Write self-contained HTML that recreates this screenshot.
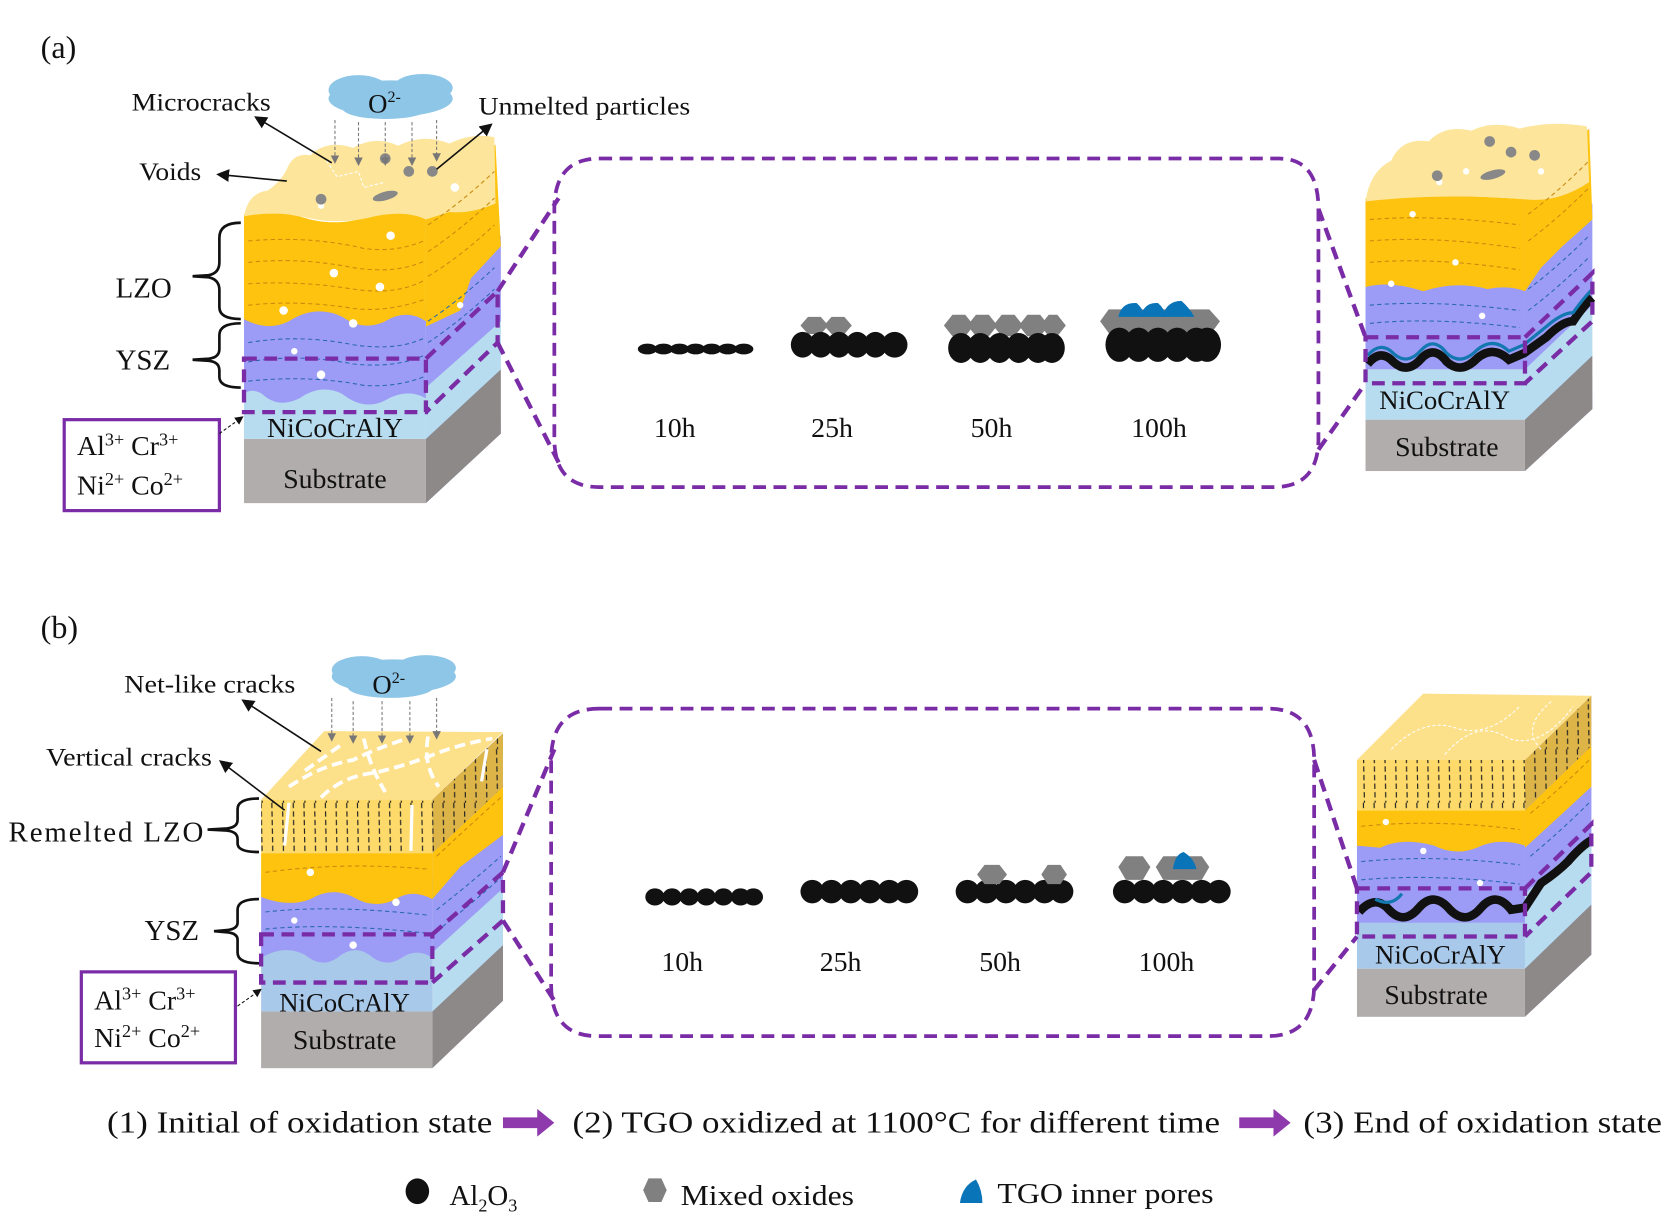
<!DOCTYPE html>
<html><head><meta charset="utf-8"><style>
html,body{margin:0;padding:0;background:#fff;}
svg{display:block;}
text{font-family:"Liberation Serif",serif;fill:#111;}
</style></head><body>
<svg width="1678" height="1231" viewBox="0 0 1568 1150" xmlns="http://www.w3.org/2000/svg">
<defs>
<pattern id="col" width="10" height="50" patternUnits="userSpaceOnUse">
<line x1="4" y1="0" x2="5" y2="50" stroke="#222" stroke-width="1.1" stroke-dasharray="5,3"/>
</pattern>
<marker id="ah" markerWidth="8" markerHeight="8" refX="6" refY="4" orient="auto"><path d="M0,0 L8,4 L0,8 Z" fill="#111"/></marker>
<marker id="ag" markerWidth="8" markerHeight="8" refX="5" refY="4" orient="auto"><path d="M0,0 L8,4 L0,8 Z" fill="#777"/></marker>
</defs>

<text x="38" y="54" font-size="30">(a)</text>

<g>
<polygon points="398,200 463,135 468,405 398,470" fill="#a4a4f7"/>
<polygon points="398,410 468,345 468,405 398,470" fill="#8d8988"/>
<polygon points="398,355 468,290 468,345 398,410" fill="#b7dcef"/>
<polygon points="398,290 468,220 468,300 398,362" fill="#9c9cf6"/>
<polygon points="398,200 463,135 468,230 440,260 430,290 398,305" fill="#fdc30e"/>
<rect x="228" y="410" width="170" height="60" fill="#b1adac"/>
<rect x="228" y="340" width="170" height="70" fill="#b7dcef"/>
<path d="M228,285 L398,285 L398,372 Q380,362 360,374 Q340,384 320,368 Q300,358 280,372 Q260,382 245,368 Q235,362 228,368 Z" fill="#9c9cf6"/>
<path d="M228,200 Q260,195 290,205 Q320,212 350,200 Q380,195 398,204 L398,300 Q380,288 360,300 Q340,310 320,296 Q295,284 270,300 Q250,310 228,298 Z" fill="#fdc30e"/>
<path d="M228,202 Q232,180 250,178 Q262,170 268,158 Q274,142 290,145 Q305,130 330,138 Q350,126 372,136 Q395,124 420,134 Q440,124 462,128 L463,190 Q440,200 420,198 L398,205 Q380,196 350,202 Q320,210 290,204 Q260,196 228,202 Z" fill="#fde59b"/>
<g fill="none" stroke="#c98a10" stroke-width="1" stroke-dasharray="4,3">
<path d="M232,225 Q290,220 340,232 Q370,236 396,225"/>
<path d="M232,245 Q280,240 330,250 Q370,256 396,244"/>
<path d="M232,265 Q280,262 330,270 Q370,276 396,262"/>
<path d="M232,285 Q280,280 330,288 Q360,292 396,280"/>
<path d="M400,210 Q430,190 462,160"/><path d="M400,235 Q430,215 462,185"/><path d="M400,258 Q430,240 462,210"/>
</g>
<g fill="none" stroke="#2a68b0" stroke-width="1" stroke-dasharray="4,3">
<path d="M232,320 Q280,312 330,322 Q370,328 396,316"/>
<path d="M232,338 Q280,330 330,340 Q370,344 396,332"/>
<path d="M232,356 Q290,350 340,360 Q370,362 396,352"/>
<path d="M400,320 Q430,300 462,270"/><path d="M400,300 Q430,280 462,250"/>
</g>
<g fill="#fff"><circle cx="300" cy="192" r="3"/><circle cx="425" cy="175" r="4"/><circle cx="365" cy="220" r="4"/><circle cx="312" cy="255" r="4"/><circle cx="355" cy="268" r="4"/><circle cx="265" cy="290" r="4"/><circle cx="330" cy="302" r="4"/><circle cx="300" cy="350" r="4"/><circle cx="275" cy="328" r="3"/><circle cx="430" cy="285" r="3"/></g>
<g fill="#888"><circle cx="300" cy="186" r="5"/><circle cx="360" cy="148" r="5"/><circle cx="382" cy="160" r="5"/><circle cx="404" cy="160" r="5"/><ellipse cx="360" cy="183" rx="12" ry="4" transform="rotate(-15 360 183)"/></g>
<path d="M305,150 L315,165 L335,160 L340,175 L360,170" fill="none" stroke="#fff" stroke-width="1" stroke-dasharray="3,2"/>
<g fill="none" stroke="#7a2ca6" stroke-width="4" stroke-dasharray="12,7">
<rect x="228" y="335" width="170" height="50"/>
<polyline points="398,335 465,272 465,320 398,385"/>
<line x1="465" y1="272" x2="522" y2="185"/>
<line x1="465" y1="320" x2="522" y2="432"/>
</g>
<text x="313" y="408" font-size="26" text-anchor="middle">NiCoCrAlY</text>
<text x="313" y="456" font-size="26" text-anchor="middle">Substrate</text>
</g>
<g fill="#8ec6e8"><ellipse cx="365" cy="92" rx="58" ry="17"/><ellipse cx="335" cy="84" rx="28" ry="14"/><ellipse cx="395" cy="82" rx="28" ry="13"/><ellipse cx="360" cy="101" rx="40" ry="10"/></g>
<text x="344" y="105" font-size="25">O<tspan font-size="15" dy="-10">2-</tspan></text>
<g stroke="#777" stroke-width="1" stroke-dasharray="3,2" marker-end="url(#ag)"><line x1="313" y1="112" x2="313" y2="150"/><line x1="335" y1="114" x2="335" y2="152"/><line x1="360" y1="114" x2="360" y2="152"/><line x1="385" y1="114" x2="385" y2="152"/><line x1="408" y1="112" x2="408" y2="148"/></g>
<text x="123" y="103" font-size="24" textLength="130" lengthAdjust="spacingAndGlyphs">Microcracks</text>
<line x1="310" y1="152" x2="240" y2="110" stroke="#111" stroke-width="1.5" marker-end="url(#ah)"/>
<text x="130" y="168" font-size="24" textLength="58" lengthAdjust="spacingAndGlyphs">Voids</text>
<line x1="268" y1="169" x2="205" y2="163" stroke="#111" stroke-width="1.5" marker-end="url(#ah)"/>
<text x="447" y="107" font-size="24" textLength="198" lengthAdjust="spacingAndGlyphs">Unmelted particles</text>
<line x1="408" y1="158" x2="458" y2="117" stroke="#111" stroke-width="1.5" marker-end="url(#ah)"/>
<text x="108" y="278" font-size="27">LZO</text>
<path d="M225,208 Q205,208 205,222 L205,245 Q205,255 195,257 L180,258 L195,259 Q205,261 205,271 L205,287 Q205,298 225,298" fill="none" stroke="#111" stroke-width="2.5"/>
<text x="108" y="345" font-size="27">YSZ</text>
<path d="M225,302 Q205,302 205,313 L205,326 Q205,334 195,335 L180,336 L195,337 Q205,338 205,346 L205,352 Q205,362 225,362" fill="none" stroke="#111" stroke-width="2.5"/>
<rect x="60" y="392" width="145" height="85" fill="#fff" stroke="#7a2ca6" stroke-width="3"/>
<text x="72" y="425" font-size="26">Al<tspan font-size="17" dy="-9">3+</tspan><tspan dy="9">  Cr</tspan><tspan font-size="17" dy="-9">3+</tspan></text>
<text x="72" y="462" font-size="26">Ni<tspan font-size="17" dy="-9">2+</tspan><tspan dy="9"> Co</tspan><tspan font-size="17" dy="-9">2+</tspan></text>
<line x1="205" y1="405" x2="226" y2="390" stroke="#111" stroke-width="1" stroke-dasharray="3,2" marker-end="url(#ah)"/>

<path d="M560,148 L1195,148 Q1232,148 1232,195 L1232,410 Q1232,455 1190,455 L560,455 Q518,455 518,410 L518,195 Q518,148 560,148 Z" fill="none" stroke="#7a2ca6" stroke-width="3.5" stroke-dasharray="12,7"/>
<g fill="#111"><ellipse cx="605" cy="326" rx="9" ry="5"/><ellipse cx="620" cy="326" rx="9" ry="5"/><ellipse cx="635" cy="326" rx="9" ry="5"/><ellipse cx="650" cy="326" rx="9" ry="5"/><ellipse cx="665" cy="326" rx="9" ry="5"/><ellipse cx="680" cy="326" rx="9" ry="5"/><ellipse cx="695" cy="326" rx="9" ry="5"/></g>
<g fill="#808080"><polygon points="748,304 755,296 767,296 774,304 767,312 755,312"/><polygon points="770,304 777,296 789,296 796,304 789,312 777,312"/></g>
<g fill="#111"><ellipse cx="750" cy="322" rx="11" ry="12"/><ellipse cx="767" cy="322" rx="11" ry="12"/><ellipse cx="784" cy="322" rx="11" ry="12"/><ellipse cx="801" cy="322" rx="11" ry="12"/><ellipse cx="818" cy="322" rx="11" ry="12"/><ellipse cx="836" cy="322" rx="12" ry="12"/></g>
<g fill="#808080"><polygon points="882,304 890,294 902,294 910,304 902,314 890,314"/><polygon points="904,304 912,294 924,294 932,304 924,314 912,314"/><polygon points="928,304 936,294 948,294 956,304 948,314 936,314"/><polygon points="952,304 960,294 972,294 980,304 972,314 960,314"/><polygon points="972,304 980,294 988,294 996,304 988,314 980,314"/></g>
<g fill="#111"><ellipse cx="898" cy="325" rx="12" ry="14"/><ellipse cx="916" cy="325" rx="12" ry="14"/><ellipse cx="934" cy="325" rx="12" ry="14"/><ellipse cx="952" cy="325" rx="12" ry="14"/><ellipse cx="970" cy="325" rx="12" ry="14"/><ellipse cx="983" cy="325" rx="12" ry="14"/></g>
<g fill="#808080"><polygon points="1028,300 1036,289 1130,289 1140,300 1132,311 1036,311"/></g>
<g fill="#0a74b8"><path d="M1045,296 Q1048,282 1062,283 Q1068,288 1070,296 Z"/><path d="M1066,296 Q1069,282 1082,283 Q1088,288 1090,296 Z"/><path d="M1086,296 Q1090,281 1104,281 Q1112,288 1116,296 Z"/></g>
<g fill="#111"><ellipse cx="1046" cy="322" rx="13" ry="16"/><ellipse cx="1064" cy="322" rx="13" ry="16"/><ellipse cx="1082" cy="322" rx="13" ry="16"/><ellipse cx="1100" cy="322" rx="13" ry="16"/><ellipse cx="1118" cy="322" rx="13" ry="16"/><ellipse cx="1128" cy="322" rx="13" ry="16"/></g>
<g font-size="26"><text x="611" y="408">10h</text><text x="758" y="408">25h</text><text x="907" y="408">50h</text><text x="1057" y="408">100h</text></g>

<g>
<polygon points="1425,185 1485,120 1488,382 1425,440" fill="#a4a4f7"/>
<polygon points="1425,392 1488,332 1488,382 1425,440" fill="#8d8988"/>
<polygon points="1425,340 1488,280 1488,332 1425,392" fill="#b7dcef"/>
<polygon points="1425,250 1488,190 1488,285 1425,345" fill="#9c9cf6"/>
<polygon points="1425,185 1485,120 1488,205 1460,230 1440,250 1425,272" fill="#fdc30e"/>
<rect x="1276" y="392" width="149" height="48" fill="#b1adac"/>
<rect x="1276" y="345" width="149" height="47" fill="#b7dcef"/>
<path d="M1276,255 L1425,255 L1425,345 L1276,345 Z" fill="#9c9cf6"/>
<path d="M1276,185 Q1340,180 1425,186 L1425,272 Q1410,266 1390,270 Q1360,262 1330,272 Q1300,262 1276,268 Z" fill="#fdc30e"/>
<path d="M1276,188 Q1280,160 1300,150 Q1310,128 1335,132 Q1350,116 1375,122 Q1395,112 1420,120 Q1450,112 1483,118 L1485,170 Q1455,190 1425,186 Q1350,180 1276,188 Z" fill="#fde59b"/>
<path d="M1278,340 Q1290,325 1302,338 Q1315,350 1328,335 Q1340,322 1352,338 Q1365,350 1380,335 Q1395,322 1410,336 L1424,330 L1445,315 Q1460,300 1470,300 Q1480,285 1488,278" fill="none" stroke="#111" stroke-width="8"/>
<path d="M1278,332 Q1290,318 1302,330 Q1315,342 1328,327 Q1340,314 1352,330 Q1365,342 1380,327 Q1395,314 1410,328 L1424,322 L1445,305 Q1460,292 1470,292 Q1480,278 1488,270" fill="none" stroke="#1478b0" stroke-width="3"/>
<g fill="none" stroke="#c98a10" stroke-width="1" stroke-dasharray="4,3"><path d="M1280,205 Q1340,200 1420,210"/><path d="M1280,225 Q1340,220 1420,232"/><path d="M1280,245 Q1340,240 1420,252"/><path d="M1428,200 Q1455,180 1485,150"/><path d="M1428,225 Q1455,205 1485,175"/></g>
<g fill="none" stroke="#2a68b0" stroke-width="1" stroke-dasharray="4,3"><path d="M1280,285 Q1340,280 1420,290"/><path d="M1280,302 Q1340,296 1420,306"/><path d="M1428,290 Q1455,270 1485,240"/><path d="M1428,270 Q1455,250 1485,220"/></g>
<g fill="#fff"><circle cx="1345" cy="170" r="3"/><circle cx="1370" cy="160" r="3"/><circle cx="1320" cy="200" r="3"/><circle cx="1360" cy="245" r="3"/><circle cx="1300" cy="265" r="3"/><circle cx="1385" cy="295" r="3"/><circle cx="1440" cy="160" r="3"/></g>
<g fill="#888"><circle cx="1392" cy="132" r="5"/><circle cx="1412" cy="142" r="5"/><circle cx="1434" cy="145" r="5"/><circle cx="1343" cy="164" r="5"/><ellipse cx="1395" cy="163" rx="12" ry="4" transform="rotate(-15 1395 163)"/></g>
<g fill="none" stroke="#7a2ca6" stroke-width="4" stroke-dasharray="12,7"><rect x="1276" y="315" width="149" height="43"/><polyline points="1425,315 1488,255 1488,300 1425,358"/><line x1="1232" y1="195" x2="1276" y2="315"/><line x1="1232" y1="420" x2="1276" y2="358"/></g>
<text x="1350" y="382" font-size="25" text-anchor="middle">NiCoCrAlY</text>
<text x="1352" y="426" font-size="26" text-anchor="middle">Substrate</text>
</g>

<text x="38" y="596" font-size="30">(b)</text>
<g>
<polygon points="404,747 470,685 470,935 404,998" fill="#a4a4f7"/>
<polygon points="404,945 470,883 470,935 404,998" fill="#8d8988"/>
<polygon points="404,880 470,818 470,883 404,945" fill="#b7dcef"/>
<polygon points="404,815 470,752 470,830 404,890" fill="#9c9cf6"/>
<polygon points="404,797 470,735 470,780 430,810 404,840" fill="#fdc30e"/>
<polygon points="404,747 470,685 470,735 404,797" fill="#ddb448"/>
<polygon points="404,747 470,685 470,735 404,797" fill="url(#col)"/>
<rect x="244" y="945" width="160" height="53" fill="#b1adac"/>
<rect x="244" y="875" width="160" height="70" fill="#a9c9ea"/>
<path d="M244,820 L404,820 L404,895 Q390,885 375,895 Q360,905 345,892 Q330,882 315,895 Q300,905 285,892 Q265,882 244,895 Z" fill="#9c9cf6"/>
<path d="M244,797 L404,797 L404,840 Q385,830 370,840 Q350,850 330,838 Q310,828 290,840 Q270,848 244,838 Z" fill="#fdc30e"/>
<rect x="244" y="747" width="160" height="50" fill="#fdda6a"/>
<rect x="244" y="747" width="160" height="50" fill="url(#col)"/>
<polygon points="244,747 404,747 470,684 303,683" fill="#fde08a"/>
<g fill="none" stroke="#fff" stroke-width="3.5" stroke-dasharray="10,5"><path d="M270,735 Q300,715 330,710 Q350,700 380,690"/><path d="M300,745 Q320,725 350,722 Q380,715 405,705 Q430,695 460,690"/><path d="M340,690 Q345,715 360,740"/><path d="M400,688 Q395,715 410,735"/><path d="M285,720 L320,695"/></g>
<line x1="270" y1="750" x2="266" y2="790" stroke="#fff" stroke-width="3"/><line x1="385" y1="752" x2="384" y2="795" stroke="#fff" stroke-width="3"/><line x1="455" y1="700" x2="450" y2="730" stroke="#fff" stroke-width="3"/>
<g fill="none" stroke="#2a68b0" stroke-width="1" stroke-dasharray="4,3"><path d="M248,852 Q310,845 400,855"/><path d="M248,868 Q310,862 400,872"/><path d="M408,850 Q440,825 468,800"/><path d="M408,870 Q440,845 468,820"/></g>
<g fill="none" stroke="#c98a10" stroke-width="1" stroke-dasharray="4,3"><path d="M248,815 Q320,805 400,812"/><path d="M408,800 Q440,770 468,745"/></g>
<g fill="#fff"><circle cx="290" cy="815" r="3.5"/><circle cx="370" cy="843" r="3.5"/><circle cx="330" cy="883" r="3.5"/><circle cx="275" cy="860" r="3"/></g>
<g fill="none" stroke="#7a2ca6" stroke-width="4" stroke-dasharray="12,7"><rect x="244" y="873" width="160" height="45"/><polyline points="404,873 470,815 470,860 404,918"/><line x1="470" y1="815" x2="518" y2="700"/><line x1="470" y1="860" x2="518" y2="935"/></g>
<text x="322" y="945" font-size="25" text-anchor="middle">NiCoCrAlY</text>
<text x="322" y="980" font-size="26" text-anchor="middle">Substrate</text>
</g>
<g fill="#8ec6e8"><ellipse cx="368" cy="632" rx="58" ry="16"/><ellipse cx="338" cy="626" rx="28" ry="13"/><ellipse cx="398" cy="624" rx="28" ry="12"/><ellipse cx="365" cy="642" rx="40" ry="10"/></g>
<text x="348" y="648" font-size="25">O<tspan font-size="15" dy="-10">2-</tspan></text>
<g stroke="#777" stroke-width="1" stroke-dasharray="3,2" marker-end="url(#ag)"><line x1="310" y1="652" x2="310" y2="690"/><line x1="330" y1="655" x2="330" y2="692"/><line x1="357" y1="655" x2="357" y2="692"/><line x1="383" y1="655" x2="383" y2="692"/><line x1="408" y1="652" x2="408" y2="688"/></g>
<text x="116" y="647" font-size="24" textLength="160" lengthAdjust="spacingAndGlyphs">Net-like cracks</text>
<line x1="300" y1="702" x2="228" y2="655" stroke="#111" stroke-width="1.5" marker-end="url(#ah)"/>
<text x="43" y="715" font-size="24" textLength="155" lengthAdjust="spacingAndGlyphs">Vertical cracks</text>
<line x1="266" y1="757" x2="207" y2="712" stroke="#111" stroke-width="1.5" marker-end="url(#ah)"/>
<text x="8" y="786" font-size="27" textLength="182" lengthAdjust="spacing">Remelted  LZO</text>
<path d="M242,746 Q222,746 222,756 L222,766 Q222,773 212,774 L194,775 L212,776 Q222,777 222,784 L222,788 Q222,796 242,796" fill="none" stroke="#111" stroke-width="2.5"/>
<text x="135" y="878" font-size="27">YSZ</text>
<path d="M242,840 Q222,840 222,850 L222,862 Q222,868 212,869 L200,870 L212,871 Q222,872 222,878 L222,890 Q222,900 242,900" fill="none" stroke="#111" stroke-width="2.5"/>
<rect x="76" y="908" width="144" height="85" fill="#fff" stroke="#7a2ca6" stroke-width="3"/>
<text x="88" y="943" font-size="26">Al<tspan font-size="17" dy="-9">3+</tspan><tspan dy="9">  Cr</tspan><tspan font-size="17" dy="-9">3+</tspan></text>
<text x="88" y="978" font-size="26">Ni<tspan font-size="17" dy="-9">2+</tspan><tspan dy="9"> Co</tspan><tspan font-size="17" dy="-9">2+</tspan></text>
<line x1="222" y1="940" x2="243" y2="925" stroke="#111" stroke-width="1" stroke-dasharray="3,2" marker-end="url(#ah)"/>

<path d="M560,662 L1185,662 Q1228,662 1228,710 L1228,920 Q1228,968 1185,968 L558,968 Q515,968 515,920 L515,710 Q515,662 560,662 Z" fill="none" stroke="#7a2ca6" stroke-width="3.5" stroke-dasharray="12,7"/>
<g fill="#111">
<ellipse cx="612" cy="838" rx="9" ry="8"/><ellipse cx="628" cy="838" rx="9" ry="8"/><ellipse cx="644" cy="838" rx="9" ry="8"/><ellipse cx="660" cy="838" rx="9" ry="8"/><ellipse cx="676" cy="838" rx="9" ry="8"/><ellipse cx="692" cy="838" rx="9" ry="8"/><ellipse cx="704" cy="838" rx="9" ry="8"/>
<ellipse cx="759" cy="833" rx="11" ry="11"/><ellipse cx="777" cy="833" rx="11" ry="11"/><ellipse cx="795" cy="833" rx="11" ry="11"/><ellipse cx="813" cy="833" rx="11" ry="11"/><ellipse cx="831" cy="833" rx="11" ry="11"/><ellipse cx="847" cy="833" rx="11" ry="11"/>
<ellipse cx="904" cy="833" rx="11" ry="11"/><ellipse cx="922" cy="833" rx="11" ry="11"/><ellipse cx="940" cy="833" rx="11" ry="11"/><ellipse cx="958" cy="833" rx="11" ry="11"/><ellipse cx="976" cy="833" rx="11" ry="11"/><ellipse cx="992" cy="833" rx="11" ry="11"/>
<ellipse cx="1051" cy="833" rx="11" ry="11"/><ellipse cx="1069" cy="833" rx="11" ry="11"/><ellipse cx="1087" cy="833" rx="11" ry="11"/><ellipse cx="1105" cy="833" rx="11" ry="11"/><ellipse cx="1123" cy="833" rx="11" ry="11"/><ellipse cx="1139" cy="833" rx="11" ry="11"/>
</g>
<g fill="#808080"><polygon points="913,817 920,808 934,808 941,817 934,826 920,826"/><polygon points="973,817 979,808 991,808 997,817 991,826 979,826"/><polygon points="1045,810 1052,800 1068,800 1075,810 1068,822 1052,822"/><polygon points="1080,810 1087,800 1123,800 1130,810 1123,822 1087,822"/></g>
<path d="M1096,812 Q1098,798 1106,796 Q1116,802 1118,812 Z" fill="#0a74b8"/>
<g font-size="26"><text x="618" y="907">10h</text><text x="766" y="907">25h</text><text x="915" y="907">50h</text><text x="1064" y="907">100h</text></g>

<g>
<polygon points="1425,710 1487,650 1487,892 1425,950" fill="#a4a4f7"/>
<polygon points="1425,905 1487,845 1487,892 1425,950" fill="#8d8988"/>
<polygon points="1425,830 1487,770 1487,845 1425,905" fill="#b7dcef"/>
<polygon points="1425,770 1487,710 1487,780 1425,835" fill="#9c9cf6"/>
<polygon points="1425,757 1487,697 1487,735 1460,760 1425,792" fill="#fdc30e"/>
<polygon points="1425,710 1487,650 1487,697 1425,757" fill="#ddb448"/>
<polygon points="1425,710 1487,650 1487,697 1425,757" fill="url(#col)"/>
<rect x="1268" y="905" width="157" height="45" fill="#b1adac"/>
<rect x="1268" y="860" width="157" height="45" fill="#a9c9ea"/>
<rect x="1268" y="775" width="157" height="87" fill="#9c9cf6"/>
<path d="M1268,757 L1425,757 L1425,790 Q1400,782 1380,792 Q1360,800 1340,790 Q1310,782 1290,792 L1268,790 Z" fill="#fdc30e"/>
<rect x="1268" y="710" width="157" height="47" fill="#fdda6a"/>
<rect x="1268" y="710" width="157" height="47" fill="url(#col)"/>
<polygon points="1268,710 1425,710 1487,650 1330,648" fill="#fde08a"/>
<g fill="none" stroke="#fff" stroke-width="1" stroke-dasharray="3,2"><path d="M1300,700 Q1330,670 1360,680 Q1390,690 1420,660"/><path d="M1350,705 Q1380,670 1410,690 Q1440,700 1470,660"/><path d="M1440,700 Q1420,680 1450,655"/></g>
<path d="M1270,852 Q1285,835 1298,850 Q1312,865 1326,848 Q1340,832 1355,850 Q1370,865 1384,848 Q1398,832 1412,850 L1425,848 L1440,825 Q1455,815 1465,805 Q1478,790 1487,785" fill="none" stroke="#111" stroke-width="8"/>
<path d="M1285,840 Q1300,848 1310,835" fill="none" stroke="#1478b0" stroke-width="3"/>
<g fill="none" stroke="#2a68b0" stroke-width="1" stroke-dasharray="4,3"><path d="M1272,805 Q1340,798 1420,808"/><path d="M1272,822 Q1340,816 1420,826"/><path d="M1430,800 Q1460,775 1485,750"/></g>
<g fill="none" stroke="#c98a10" stroke-width="1" stroke-dasharray="4,3"><path d="M1272,772 Q1340,765 1420,775"/><path d="M1430,760 Q1460,735 1485,710"/></g>
<g fill="#fff"><circle cx="1383" cy="825" r="3"/><circle cx="1295" cy="768" r="3"/><circle cx="1330" cy="795" r="3"/></g>
<g fill="none" stroke="#7a2ca6" stroke-width="4" stroke-dasharray="12,7"><rect x="1268" y="830" width="157" height="45"/><polyline points="1425,830 1487,770 1487,815 1425,875"/><line x1="1228" y1="710" x2="1268" y2="830"/><line x1="1228" y1="925" x2="1268" y2="875"/></g>
<text x="1346" y="900" font-size="25" text-anchor="middle">NiCoCrAlY</text>
<text x="1342" y="938" font-size="26" text-anchor="middle">Substrate</text>
</g>

<text x="100" y="1058" font-size="29" textLength="360" lengthAdjust="spacingAndGlyphs">(1) Initial of oxidation state</text>
<path d="M470,1044 L502,1044 L502,1036 L518,1049 L502,1062 L502,1054 L470,1054 Z" fill="#8e3aad"/>
<text x="535" y="1058" font-size="29" textLength="605" lengthAdjust="spacingAndGlyphs">(2) TGO oxidized at 1100°C for different time</text>
<path d="M1158,1044 L1190,1044 L1190,1036 L1206,1049 L1190,1062 L1190,1054 L1158,1054 Z" fill="#8e3aad"/>
<text x="1218" y="1058" font-size="29" textLength="335" lengthAdjust="spacingAndGlyphs">(3) End of oxidation state</text>

<ellipse cx="390" cy="1113" rx="11" ry="12" fill="#111"/>
<text x="420" y="1126" font-size="27">Al<tspan font-size="17" dy="6">2</tspan><tspan dy="-6">O</tspan><tspan font-size="17" dy="6">3</tspan></text>
<polygon points="601,1112 606,1101 618,1101 623,1112 618,1123 606,1123" fill="#808080"/>
<text x="636" y="1126" font-size="27" textLength="162" lengthAdjust="spacingAndGlyphs">Mixed oxides</text>
<path d="M897,1124 Q899,1108 912,1102 Q918,1112 918,1124 Z" fill="#0a74b8"/>
<text x="932" y="1124" font-size="27" textLength="202" lengthAdjust="spacingAndGlyphs">TGO inner pores</text>
</svg>
</body></html>
